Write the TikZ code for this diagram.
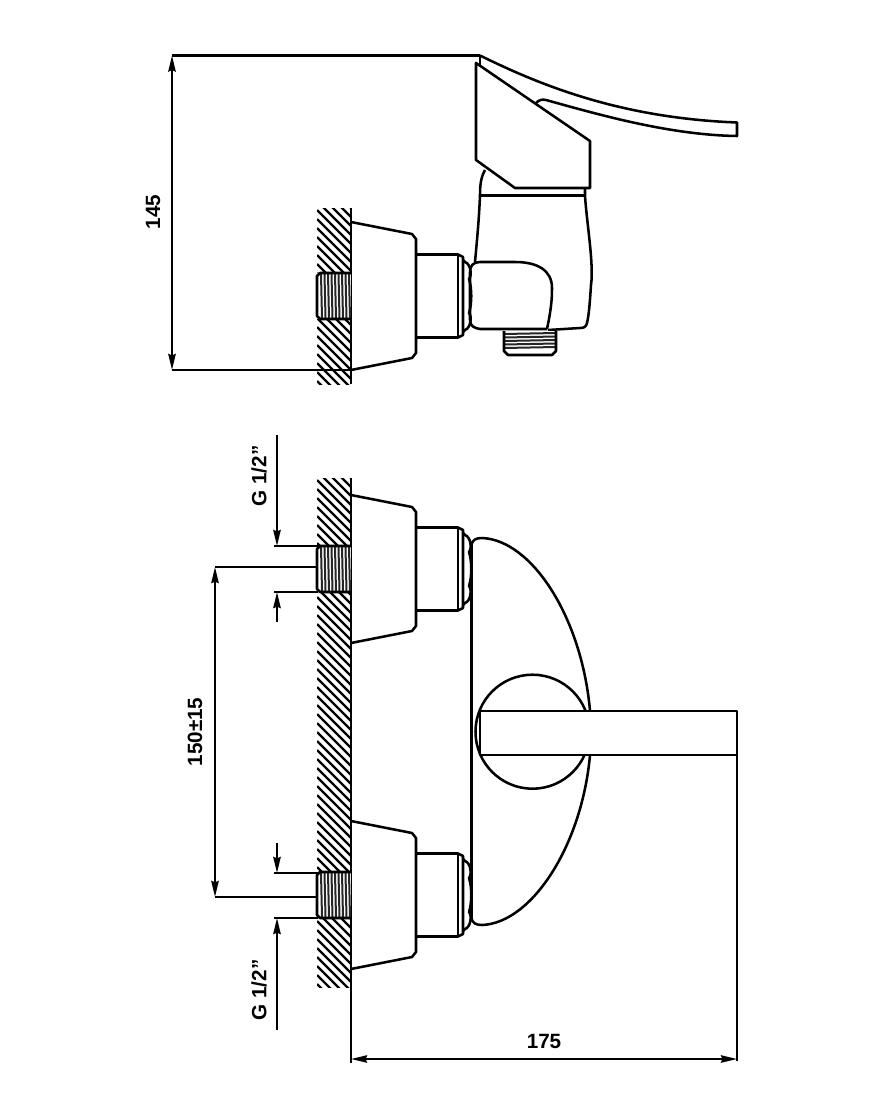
\documentclass[tikz,border=0pt]{standalone}
\usepackage{fontspec}
\setmainfont{Liberation Sans}
\usetikzlibrary{arrows.meta}
\tikzset{
	outline/.style = {line width=1.9pt, line join=round, black},
	dimline/.style = {line width=1.6pt, black},
	dimarrow/.style = {dimline, -{Stealth[length=12pt,width=5.5pt,inset=1pt]}},
	dimboth/.style = {dimline, {Stealth[length=12pt,width=5.5pt,inset=1pt]}-{Stealth[length=12pt,width=5.5pt,inset=1pt]}},
	hatchline/.style = {line width=1.6pt, black},
	threadline/.style = {line width=1.5pt, black!85},
	dimlabel/.style = {inner sep=0pt, font=\fontsize{15.5}{15.5}\selectfont\bfseries, rotate=90},
	mount/.pic = {% escutcheon, neck and nut, origin on the wall
		\draw[outline] (0,-74) -- (61,-62) -- (65,-57) -- (65,57) -- (61,62) -- (0,74);
		\draw[outline] (65,-41.5) -- (107,-41.5) -- (112,-39) -- (112,39) -- (107,41.5) -- (65,41.5);
		\draw[outline] (107,-41.5) -- (107,41.5);
		\draw[outline] (112,-36) -- (114,-34) .. controls (120,-32) and (121,-20) .. (118,-17)
			.. controls (121,-8) and (121,8) .. (118,17)
			.. controls (121,20) and (120,32) .. (114,34) -- (112,36);
	},
	thread/.pic = {% threaded hole in the wall
		\fill[white] (-34,-23) rectangle (0,23);
		\foreach \tx in {-30,-26.5,...,-2}
			\draw[threadline] (\tx,-22) -- (\tx+1,22);
		\draw[outline] (0,-23) -- (-31,-23) -- (-34,-20) -- (-34,20) -- (-31,23) -- (0,23);
	}
}
\newcommand{\wallhatch}[2]{
	\begin{scope}
		\clip (317,#1) rectangle (351,#2);
		\foreach \h in {0,9,...,560}
			\draw[hatchline] (317,{#1-34+\h}) -- ++(34,34);
	\end{scope}
	\draw[outline] (351,#1) -- (351,#2);
}

\begin{document}
\begin{tikzpicture}[x=0.75pt,y=-0.75pt]
	\useasboundingbox[fill=white] (0,0) rectangle (870,1110);

	% side view
	\wallhatch{208}{384}
	\pic at (351,296) {thread};
	\pic at (351,296) {mount};
	\draw[dimline] (172,55.5) -- (480,55.5);
	\draw[dimline] (172,370) -- (351,370);
	\draw[dimboth] (172,55.5) -- (172,370);
	\node[dimlabel] (sideheight) at (153,212) {145};
	% lever
	\draw[outline] (480,55.5) .. controls (540,85) and (620,118) .. (737,122.5) -- (737,136)
		.. controls (670,135) and (600,115) .. (546,100) .. controls (542,99) and (539,100) .. (536,103);
	\draw[outline] (480,55.5) -- (480,65);
	\draw[outline] (476,63) -- (590,141) -- (590,188) -- (515,188) -- (476,160) -- cycle;
	% body
	\draw[outline] (485,170) .. controls (481,177) and (480,185) .. (480,195)
		.. controls (479,220) and (477,240) .. (475,262);
	\draw[outline] (480,195.5) -- (585,195.5);
	\draw[outline] (585,188) -- (585,196) .. controls (587,225) and (594,265) .. (591,285)
		.. controls (590,300) and (589,315) .. (587,323) .. controls (586,327) and (584,328) .. (580,328) -- (548,330);
	% elbow
	\draw[outline] (547,329) .. controls (551,310) and (552,300) .. (552,288)
		.. controls (552,270) and (537,262) .. (515,262) -- (480,262)
		.. controls (473,262) and (470,266) .. (470,272) -- (470,320)
		.. controls (470,326) and (474,328) .. (480,329) -- (547,329);
	% outlet
	\fill[white] (504,331) rectangle (556,355);
	\foreach \ty in {334,337.5,...,350}
		\draw[threadline] (504,\ty) -- (556,\ty-1);
	\draw[outline] (504,331) -- (504,351) -- (508,355) -- (552,355) -- (556,351) -- (556,331);

	% front view
	\wallhatch{478}{987}
	\pic at (351,569) {thread};
	\pic at (351,895) {thread};
	\pic at (351,569) {mount};
	\pic at (351,895) {mount};
	\draw[outline] (351,987) -- (351,1063);
	\draw[outline] (471.5,545) -- (471.5,918);
	\draw[outline] (532.5,731.7) circle [radius=57];
	\draw[outline] (471.5,545) .. controls (472,540) and (476,538) .. (482,538)
		.. controls (532,540) and (582,618) .. (590,711);
	\draw[outline] (471.5,918) .. controls (472,923) and (476,925) .. (482,925)
		.. controls (532,923) and (582,845) .. (590,755);
	\draw[outline, fill=white] (480,711) rectangle (737,755);
	\draw[outline] (737,755) -- (737,1061);
	% dimensions
	\draw[dimline] (215,567) -- (318,567);
	\draw[dimline] (215,897) -- (318,897);
	\draw[dimboth] (215,567) -- (215,897);
	\node[dimlabel] (spacing) at (195,732) {150±15};
	\draw[dimline] (274,546) -- (318,546);
	\draw[dimline] (274,592) -- (318,592);
	\draw[dimline] (274,873) -- (318,873);
	\draw[dimline] (274,918) -- (318,918);
	\draw[dimarrow] (277,435) -- (277,546);
	\draw[dimarrow] (277,622) -- (277,592);
	\draw[dimarrow] (277,843) -- (277,873);
	\draw[dimarrow] (277,1030) -- (277,918);
	\node[dimlabel] (upperthread) at (259,476) {G 1/2"};
	\node[dimlabel] (lowerthread) at (259,990) {G 1/2"};
	\draw[dimboth] (351,1059) -- (737,1059);
	\node[dimlabel, rotate=-90] (depth) at (544,1041) {175};
\end{tikzpicture}
\end{document}
